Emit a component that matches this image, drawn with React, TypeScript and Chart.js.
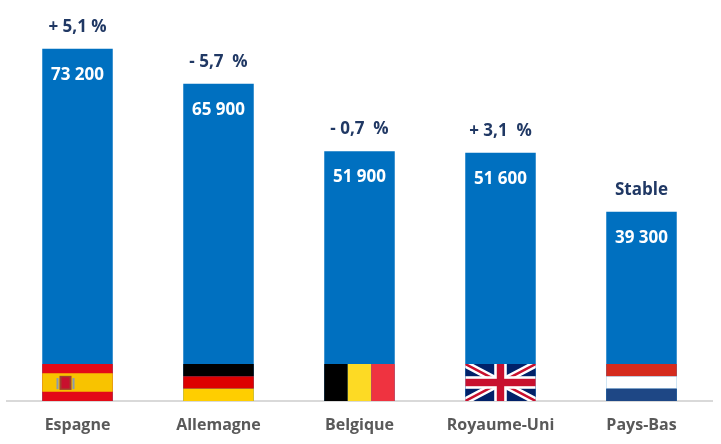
import { useEffect, useRef } from "react";
import Chart from "chart.js/auto";

const countries = ["Espagne", "Allemagne", "Belgique", "Royaume-Uni", "Pays-Bas"];
const visitors = [73200, 65900, 51900, 51600, 39300];
const valueLabels = ["73 200", "65 900", "51 900", "51 600", "39 300"];
const changeLabels = ["+ 5,1 %", "- 5,7  %", "- 0,7  %", "+ 3,1  %", "Stable"];
const flags = ["es", "de", "be", "gb", "nl"];

const BLUE = "#0070C0";
const NAVY = "#203864";
const FONT = "'Open Sans', 'Liberation Sans', sans-serif";

function drawFlag(ctx: CanvasRenderingContext2D, code: string, x: number, y: number, w: number, h: number) {
    ctx.save();
    if (code === "es") {
        ctx.fillStyle = "#e30a17";
        ctx.fillRect(x, y, w, h);
        ctx.fillStyle = "#f8c300";
        ctx.fillRect(x, y + h / 4, w, h / 2);
        // coat of arms
        const cx = x + w * 0.33;
        ctx.fillStyle = "#a0412d";
        ctx.fillRect(cx - 6, y + h * 0.32, 12, h * 0.38);
        ctx.fillStyle = "#c8102e";
        ctx.fillRect(cx - 4, y + h * 0.36, 8, h * 0.3);
        ctx.fillStyle = "#8a9bb0";
        ctx.fillRect(cx - 9, y + h * 0.38, 2, h * 0.3);
        ctx.fillRect(cx + 7, y + h * 0.38, 2, h * 0.3);
    } else if (code === "de") {
        const s = h / 3;
        ctx.fillStyle = "#000000";
        ctx.fillRect(x, y, w, s);
        ctx.fillStyle = "#dd0000";
        ctx.fillRect(x, y + s, w, s);
        ctx.fillStyle = "#ffce00";
        ctx.fillRect(x, y + 2 * s, w, h - 2 * s);
    } else if (code === "be") {
        const s = w / 3;
        ctx.fillStyle = "#000000";
        ctx.fillRect(x, y, s, h);
        ctx.fillStyle = "#fdda24";
        ctx.fillRect(x + s, y, s, h);
        ctx.fillStyle = "#ef3340";
        ctx.fillRect(x + 2 * s, y, w - 2 * s, h);
    } else if (code === "nl") {
        const s = h / 3;
        ctx.fillStyle = "#d52b1e";
        ctx.fillRect(x, y, w, s);
        ctx.fillStyle = "#ffffff";
        ctx.fillRect(x, y + s, w, s);
        ctx.fillStyle = "#1e4785";
        ctx.fillRect(x, y + 2 * s, w, h - 2 * s);
    } else if (code === "gb") {
        ctx.beginPath();
        ctx.rect(x, y, w, h);
        ctx.clip();
        ctx.fillStyle = "#012169";
        ctx.fillRect(x, y, w, h);
        ctx.lineCap = "butt";
        ctx.strokeStyle = "#ffffff";
        ctx.lineWidth = h * 0.2;
        ctx.beginPath();
        ctx.moveTo(x, y); ctx.lineTo(x + w, y + h);
        ctx.moveTo(x + w, y); ctx.lineTo(x, y + h);
        ctx.stroke();
        ctx.strokeStyle = "#c8102e";
        ctx.lineWidth = h * 0.07;
        ctx.beginPath();
        ctx.moveTo(x, y); ctx.lineTo(x + w, y + h);
        ctx.moveTo(x + w, y); ctx.lineTo(x, y + h);
        ctx.stroke();
        ctx.fillStyle = "#ffffff";
        ctx.fillRect(x + w / 2 - h * 0.17, y, h * 0.34, h);
        ctx.fillRect(x, y + h / 2 - h * 0.17, w, h * 0.34);
        ctx.fillStyle = "#c8102e";
        ctx.fillRect(x + w / 2 - h * 0.1, y, h * 0.2, h);
        ctx.fillRect(x, y + h / 2 - h * 0.1, w, h * 0.2);
    }
    ctx.restore();
}

const barDecorations = {
    id: "barDecorations",
    afterDatasetsDraw(chart: any) {
        const ctx = chart.ctx as CanvasRenderingContext2D;
        const meta = chart.getDatasetMeta(0);
        meta.data.forEach((bar: any, i: number) => {
            const left = bar.x - bar.width / 2;
            const flagH = 37;
            drawFlag(ctx, flags[i], left, bar.base - flagH, bar.width, flagH);

            ctx.save();
            ctx.textAlign = "center";
            ctx.textBaseline = "middle";
            ctx.font = `bold 17px ${FONT}`;
            ctx.fillStyle = "#ffffff";
            ctx.fillText(valueLabels[i], bar.x, bar.y + 26);
            ctx.fillStyle = NAVY;
            ctx.fillText(changeLabels[i], bar.x, bar.y - 22);
            ctx.restore();
        });
    },
};

export default function App() {
    const chartRef = useRef<HTMLCanvasElement | null>(null);
    const chartInstanceRef = useRef<Chart | null>(null);

    useEffect(() => {
        if (chartInstanceRef.current) {
            chartInstanceRef.current.destroy();
        }
        if (!chartRef.current) return;

        chartInstanceRef.current = new Chart(chartRef.current, {
            type: "bar",
            data: {
                labels: countries,
                datasets: [{
                    data: visitors,
                    backgroundColor: BLUE,
                    borderWidth: 0,
                    barPercentage: 0.5,
                    categoryPercentage: 1,
                }],
            },
            options: {
                animation: false,
                responsive: true,
                maintainAspectRatio: false,
                layout: { padding: { left: 7, right: 9, top: 16, bottom: 0 } },
                plugins: {
                    legend: { display: false },
                    tooltip: { enabled: false },
                },
                scales: {
                    x: {
                        grid: { display: false, drawTicks: false },
                        border: { display: true, color: "#d9d9d9", width: 2 },
                        ticks: {
                            padding: 15,
                            color: "#595959",
                            font: { family: FONT, size: 16, weight: "bold" },
                        },
                        afterFit(scale: any) {
                            scale.height = 43;
                        },
                    },
                    y: {
                        display: false,
                        min: 0,
                        max: 80000,
                    },
                },
            },
            plugins: [barDecorations],
        });

        return () => {
            if (chartInstanceRef.current) {
                chartInstanceRef.current.destroy();
                chartInstanceRef.current = null;
            }
        };
    }, []);

    return (
        <div style={{ position: "fixed", left: 0, top: 0, width: 721, height: 444, background: "#ffffff" }}>
            <canvas ref={chartRef} />
        </div>
    );
}
